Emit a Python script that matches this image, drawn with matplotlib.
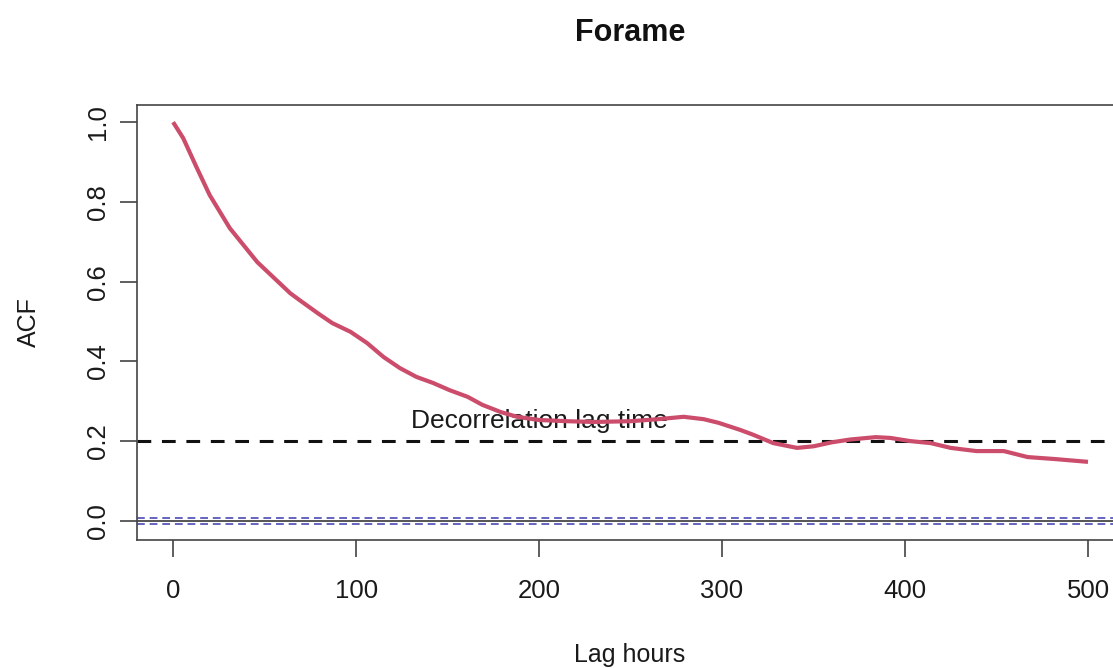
import matplotlib
matplotlib.use("Agg")
import matplotlib.pyplot as plt

plt.rcParams['font.family'] = ['Liberation Sans', 'DejaVu Sans']

# Data
lag = [0, 5.5, 13, 20, 31, 46, 64, 69, 79, 87, 97, 106, 115, 124, 133, 142, 151,
       161, 169, 179, 188, 200, 215, 230, 250, 265, 279, 290, 298, 310, 317, 328,
       341, 350, 360, 370, 384, 392, 403, 414, 425, 439, 454, 467, 482, 500]
acf = [1.0, 0.96, 0.885, 0.817, 0.734, 0.649, 0.571, 0.554, 0.521, 0.496, 0.474,
       0.446, 0.411, 0.383, 0.361, 0.346, 0.328, 0.311, 0.291, 0.273, 0.261, 0.253,
       0.25, 0.248, 0.25, 0.255, 0.261, 0.255, 0.246, 0.228, 0.216, 0.195, 0.183,
       0.187, 0.197, 0.204, 0.21, 0.208, 0.2, 0.195, 0.183, 0.175, 0.175, 0.16,
       0.155, 0.148]
threshold = 0.2
conf_band = 0.0075
xticks = [0, 100, 200, 300, 400, 500]
yticks = [0.0, 0.2, 0.4, 0.6, 0.8, 1.0]
title = "Forame"
xlabel = "Lag hours"
ylabel = "ACF"
annot = "Decorrelation lag time"
annot_x, annot_y = 200, 0.25

W, H = 1113, 668
fig = plt.figure(figsize=(W / 100, H / 100), dpi=100)
ax = fig.add_axes([136.5 / W, 1 - 540 / H, (1124.6 - 136.5) / W, (540 - 105) / H])

ax.axhline(0, color='#555555', lw=1.4, zorder=1)
ax.axhline(conf_band, color='#6464C0', lw=1.4, ls=(0, (4, 2.5)), zorder=2)
ax.axhline(-conf_band, color='#6464C0', lw=1.4, ls=(0, (4, 2.5)), zorder=2)
ax.axhline(threshold, color='#111111', lw=2.2, ls=(0, (4.5, 3.5)), zorder=2)
ax.plot(lag, acf, color='#CC4D6B', lw=3.0, zorder=3, solid_capstyle='butt')
ax.text(annot_x, annot_y, annot, ha='center', va='center', fontsize=19,
        color='#1a1a1a', zorder=2)

ax.set_xlim(-20, 520)
ax.set_ylim(-0.048, 1.043)
ax.set_xticks(xticks)
ax.set_xticklabels([str(v) for v in xticks])
ax.set_yticks(yticks)
ax.set_yticklabels([f"{v:.1f}" for v in yticks], rotation=90, va='center')
ax.tick_params(axis='both', length=12.2, width=1.1, color='#333333',
               labelsize=18.5, labelcolor='#1a1a1a')
ax.tick_params(axis='x', pad=16)
ax.tick_params(axis='y', pad=7)
for s in ax.spines.values():
    s.set_color('#444444')
    s.set_linewidth(1.2)

fig.text(630 / W, 1 - 41 / H, title, ha='center', va='baseline',
         fontsize=22, fontweight='bold', color='#111111')
fig.text(630 / W, 1 - 662 / H, xlabel, ha='center', va='baseline',
         fontsize=18, color='#1a1a1a')
fig.text(29 / W, 1 - 322 / H, ylabel, ha='center', va='center', rotation=90,
         fontsize=18, color='#1a1a1a')

fig.savefig("out.png", dpi=100)
